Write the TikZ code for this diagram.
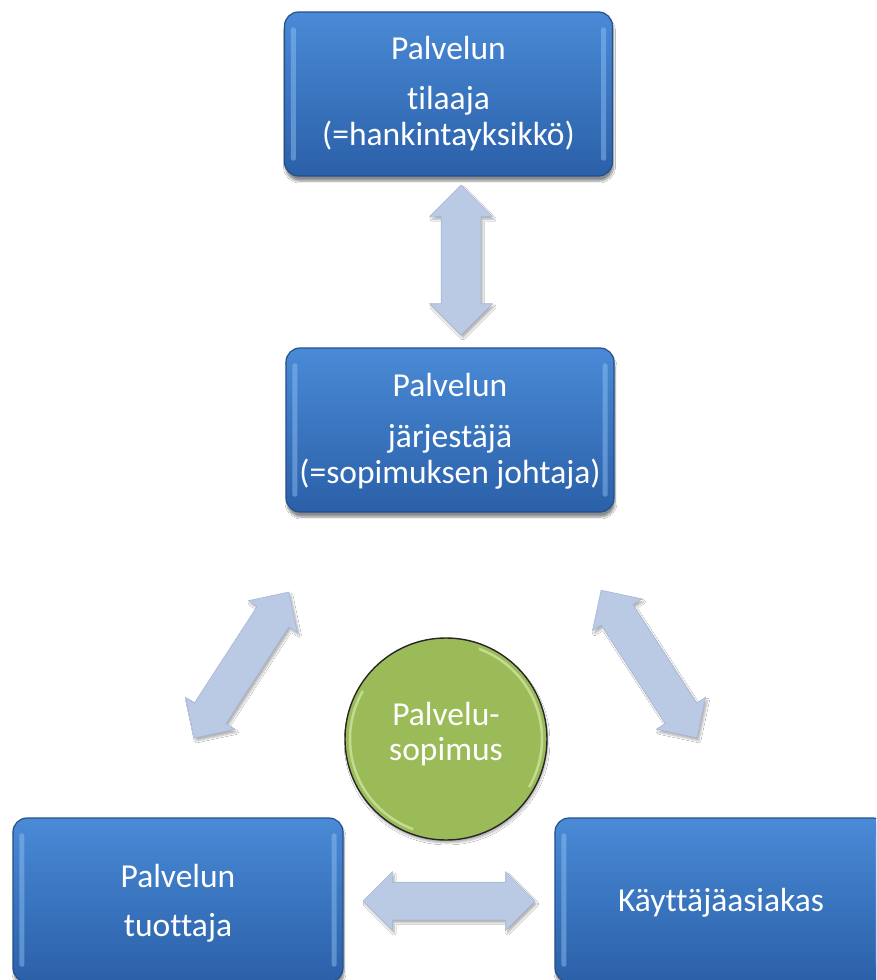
\documentclass[tikz,border=0pt]{standalone}
\usepackage{fontspec}
\setmainfont{Carlito}[Ligatures={NoCommon,NoRare}]
\usetikzlibrary{shapes.arrows,shadows.blur}

\definecolor{boxtop}{RGB}{74,138,214}
\definecolor{boxbot}{RGB}{42,96,168}
\definecolor{boxedge}{RGB}{36,80,140}
\definecolor{boxshine}{RGB}{150,196,246}
\definecolor{arrowfill}{RGB}{186,201,228}
\definecolor{arrowedge}{RGB}{165,184,216}
\definecolor{ballgreen}{RGB}{155,187,89}
\definecolor{ballrim}{RGB}{205,228,160}

\tikzset{
  rolebox/.style={rectangle, rounded corners=14pt, minimum width=328pt,
    minimum height=164pt, top color=boxtop, bottom color=boxbot,
    draw=boxedge, line width=1.2pt,
    blur shadow={shadow xshift=1pt, shadow yshift=-5pt, shadow blur steps=8,
      shadow opacity=45}},
  rolelabel/.style={text=white, font=\fontsize{33.5}{36}\selectfont,
    align=center, inner sep=0pt},
  linkarrow/.style={double arrow, double arrow tip angle=90, minimum width=0pt,
    inner xsep=0pt, inner ysep=18.5pt, double arrow head extend=10.5pt,
    fill=arrowfill, draw=arrowedge, line width=0.6pt,
    blur shadow={shadow xshift=2pt, shadow yshift=-3pt, shadow blur steps=6,
      shadow opacity=30}},
  shine/.style={fill=boxshine, opacity=0.45, rounded corners=2pt}
}

% light vertical bevel strips inside a box
\newcommand\boxgloss[1]{%
  \fill[shine] ([xshift=7pt,yshift=-16pt]#1.north west)
    rectangle ([xshift=12pt,yshift=16pt]#1.south west);
  \fill[shine] ([xshift=-12pt,yshift=-16pt]#1.north east)
    rectangle ([xshift=-7pt,yshift=16pt]#1.south east);
}

\begin{document}
\begin{tikzpicture}[x=1pt,y=-1pt]
  \useasboundingbox (0,0) rectangle (876,980);
  \fill[white] (0,0) rectangle (876,980);
  \clip (0,0) rectangle (876,980);

  % boxes
  \node[rolebox] (orderer) at (448.5,94) {};
  \node[rolebox] (organizer) at (450,430) {};
  \node[rolebox, minimum width=330pt] (producer) at (178,900) {};
  \node[rolebox, minimum width=332pt] (customer) at (721,900) {};
  \boxgloss{orderer}
  \boxgloss{organizer}
  \boxgloss{producer}
  \boxgloss{customer}

  \node[rolelabel] (orderer text) at (orderer.center)
    {Palvelun\\[14pt]tilaaja\\(=hankintayksikkö)};
  \node[rolelabel] (organizer text) at ([yshift=-1pt]organizer.center)
    {Palvelun\\[15pt]järjestäjä\\(=sopimuksen johtaja)};
  \node[rolelabel] (producer text) at ([yshift=-3pt]producer.center)
    {Palvelun\\[13pt]tuottaja};
  \node[rolelabel] (customer text) at ([yshift=-3pt]customer.center)
    {Käyttäjäasiakas};

  % contract ball
  \node[circle, minimum size=202pt, fill=ballgreen, draw=black!85,
    line width=1.4pt,
    blur shadow={shadow xshift=1pt, shadow yshift=-3pt, shadow opacity=30}]
    (contract) at (446,739) {};
  \draw[ballrim, line width=2.5pt, opacity=0.8]
    (contract.center) ++(150:96pt) arc[start angle=150, end angle=250, radius=96pt];
  \draw[ballrim, line width=2.5pt, opacity=0.8]
    (contract.center) ++(-30:96pt) arc[start angle=-30, end angle=70, radius=96pt];
  \node[rolelabel, font=\fontsize{33.5}{35}\selectfont] (contract text)
    at ([yshift=5pt]contract.center) {Palvelu-\\sopimus};

  % two-way links
  \node[linkarrow, minimum height=150pt, inner ysep=19.5pt,
    double arrow head extend=11.5pt, rotate=90] (link top) at (461,260) {};
  \node[linkarrow, minimum height=174pt, rotate=57] (link left) at (241.5,665) {};
  \node[linkarrow, minimum height=176pt, rotate=-57] (link right) at (649,664) {};
  \node[linkarrow, minimum height=172pt] (link bottom) at (449,901) {};
\end{tikzpicture}
\end{document}
